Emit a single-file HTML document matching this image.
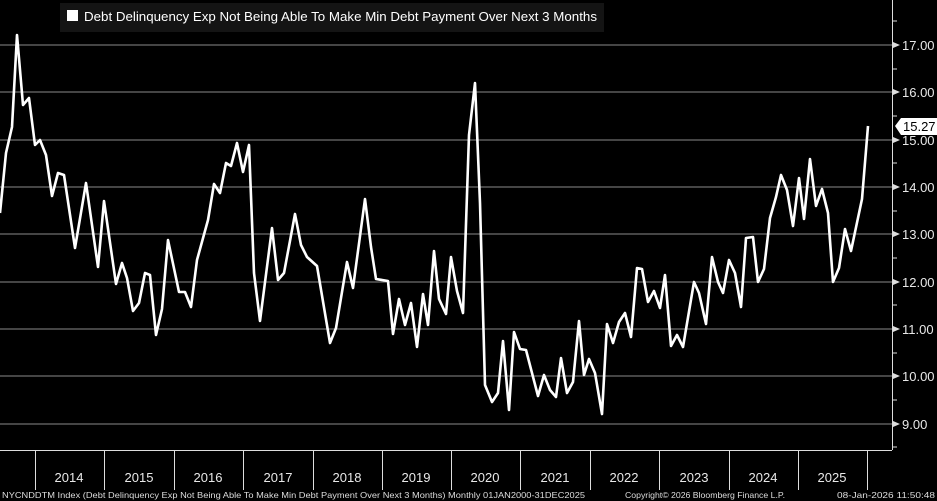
<!DOCTYPE html>
<html><head><meta charset="utf-8"><style>
html,body{margin:0;padding:0;background:#000;}
svg{display:block;}
text{font-family:"Liberation Sans",sans-serif;}
</style></head><body>
<svg width="937" height="501" viewBox="0 0 937 501" xmlns="http://www.w3.org/2000/svg">
<rect width="937" height="501" fill="#000"/>
<g stroke="#8a8a8a" stroke-width="1">
<line x1="0" y1="45" x2="892" y2="45"/>
<line x1="0" y1="92" x2="892" y2="92"/>
<line x1="0" y1="140" x2="892" y2="140"/>
<line x1="0" y1="187" x2="892" y2="187"/>
<line x1="0" y1="234" x2="892" y2="234"/>
<line x1="0" y1="282" x2="892" y2="282"/>
<line x1="0" y1="329" x2="892" y2="329"/>
<line x1="0" y1="376" x2="892" y2="376"/>
<line x1="0" y1="424" x2="892" y2="424"/>
</g>
<g stroke="#ddd" stroke-width="1">
<line x1="892.5" y1="0" x2="892.5" y2="450"/>
<line x1="0" y1="450.5" x2="892" y2="450.5"/>
<line x1="35.5" y1="450" x2="35.5" y2="490"/>
<line x1="104.5" y1="450" x2="104.5" y2="490"/>
<line x1="174.5" y1="450" x2="174.5" y2="490"/>
<line x1="243.5" y1="450" x2="243.5" y2="490"/>
<line x1="313.5" y1="450" x2="313.5" y2="490"/>
<line x1="382.5" y1="450" x2="382.5" y2="490"/>
<line x1="451.5" y1="450" x2="451.5" y2="490"/>
<line x1="520.5" y1="450" x2="520.5" y2="490"/>
<line x1="590.5" y1="450" x2="590.5" y2="490"/>
<line x1="659.5" y1="450" x2="659.5" y2="490"/>
<line x1="729.5" y1="450" x2="729.5" y2="490"/>
<line x1="798.5" y1="450" x2="798.5" y2="490"/>
<line x1="867.5" y1="450" x2="867.5" y2="490"/>
<line x1="893" y1="21" x2="897" y2="21"/>
<line x1="893" y1="69" x2="897" y2="69"/>
<line x1="893" y1="116" x2="897" y2="116"/>
<line x1="893" y1="163" x2="897" y2="163"/>
<line x1="893" y1="211" x2="897" y2="211"/>
<line x1="893" y1="258" x2="897" y2="258"/>
<line x1="893" y1="305" x2="897" y2="305"/>
<line x1="893" y1="353" x2="897" y2="353"/>
<line x1="893" y1="400" x2="897" y2="400"/>
<line x1="893" y1="447" x2="897" y2="447"/>
</g>
<g fill="#ddd">
<polygon points="893,42 900,45 893,48"/><polygon points="893,89 900,92 893,95"/><polygon points="893,137 900,140 893,143"/><polygon points="893,184 900,187 893,190"/><polygon points="893,231 900,234 893,237"/><polygon points="893,279 900,282 893,285"/><polygon points="893,326 900,329 893,332"/><polygon points="893,373 900,376 893,379"/><polygon points="893,421 900,424 893,427"/>
</g>
<g fill="#e8e8e8" font-size="13">
<text x="902" y="50">17.00</text><text x="902" y="97">16.00</text><text x="902" y="145">15.00</text><text x="902" y="192">14.00</text><text x="902" y="239">13.00</text><text x="902" y="287">12.00</text><text x="902" y="334">11.00</text><text x="902" y="381">10.00</text><text x="902" y="429">9.00</text>
</g>
<polygon points="895,126 901,118 937,118 937,135 901,135" fill="#fff"/>
<text x="903" y="131" font-size="13" fill="#000">15.27</text>
<polyline fill="none" stroke="#fff" stroke-width="2.6" stroke-linejoin="round" points="0,213 6,153 12,127 17,35 23,105 29,98 35,145 40,140 46,155 52,196 58,173 64,175 75,248 86,183 98,267 104,201 116,284 122,263 127,278 133,311 139,303 145,273 150,275 156,335 162,309 168,240 179,292 185,292 191,307 197,260 208,220 214,184 220,193 226,163 231,166 237,143 243,172 249,145 254,273 260,321 272,228 278,280 284,273 295,214 301,245 307,257 317,266 330,343 336,328 347,262 353,288 365,199 371,247 376,279 388,281 393,334 399,299 405,325 411,303 417,347 423,294 428,325 434,251 439,299 446,314 451,257 457,291 463,313 469,135 475,83 480,203 485,385 492,402 498,393 503,341 509,410 514,332 520,349 526,350 538,396 544,375 550,390 556,397 561,358 567,393 573,382 579,321 584,375 589,359 595,373 602,414 607,324 613,343 619,322 625,313 631,337 637,268 642,269 648,302 654,291 660,308 665,275 671,346 677,335 683,347 694,282 699,293 706,324 712,257 718,282 723,293 729,260 735,273 741,307 746,238 753,237 758,282 764,269 770,218 776,197 781,175 787,190 793,226 799,178 804,219 810,159 816,206 822,189 828,213 833,282 839,268 845,229 851,251 862,199 868,126"/>
<rect x="60" y="3" width="544" height="29" fill="#141414"/>
<rect x="67" y="10" width="11" height="11" fill="#fff"/>
<text x="84" y="21" font-size="13" fill="#fff" textLength="513" lengthAdjust="spacingAndGlyphs">Debt Delinquency Exp Not Being Able To Make Min Debt Payment Over Next 3 Months</text>
<g fill="#e8e8e8" font-size="13" text-anchor="middle">
<text x="69" y="482">2014</text><text x="139" y="482">2015</text><text x="208" y="482">2016</text><text x="278" y="482">2017</text><text x="347" y="482">2018</text><text x="416" y="482">2019</text><text x="485" y="482">2020</text><text x="555" y="482">2021</text><text x="624" y="482">2022</text><text x="694" y="482">2023</text><text x="763" y="482">2024</text><text x="832" y="482">2025</text>
</g>
<g fill="#ddd" font-size="8.5">
<text x="2" y="498" textLength="583" lengthAdjust="spacingAndGlyphs">NYCNDDTM Index (Debt Delinquency Exp Not Being Able To Make Min Debt Payment Over Next 3 Months) Monthly 01JAN2000-31DEC2025</text>
<text x="625" y="498" textLength="160" lengthAdjust="spacingAndGlyphs">Copyright© 2026 Bloomberg Finance L.P.</text>
<text x="837" y="498" textLength="98" lengthAdjust="spacingAndGlyphs">08-Jan-2026 11:50:48</text>
</g>
</svg>
</body></html>
